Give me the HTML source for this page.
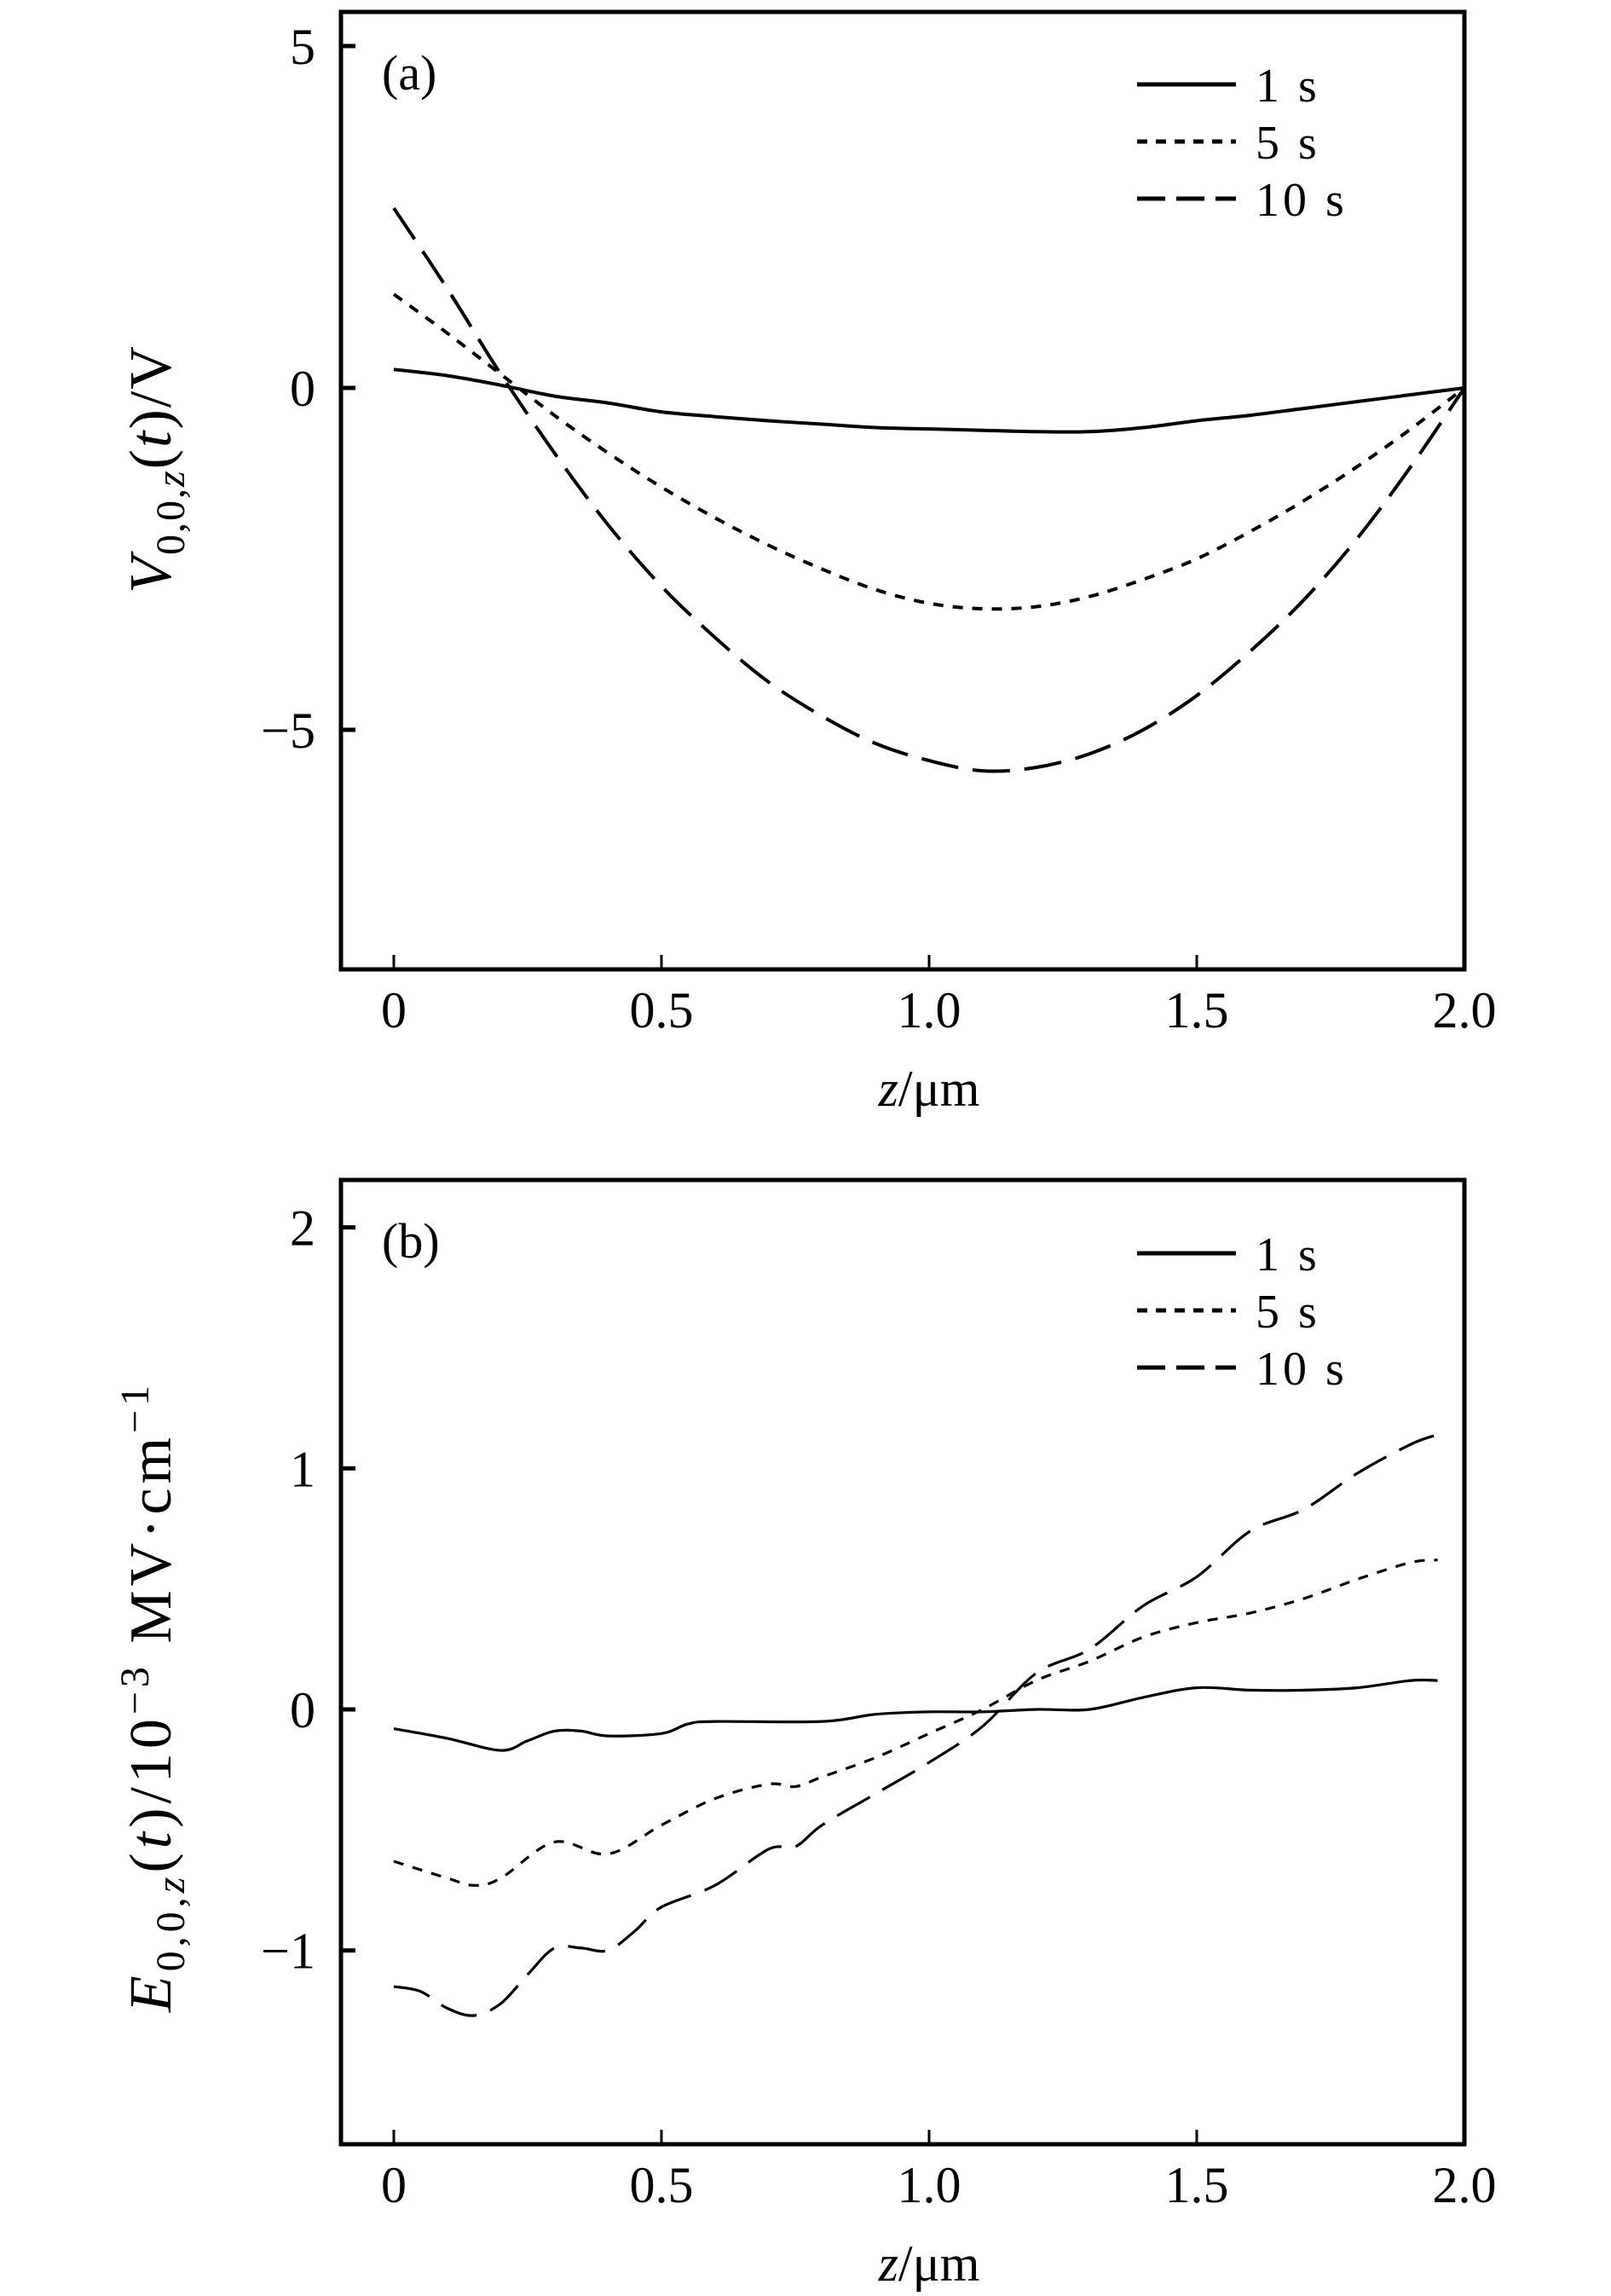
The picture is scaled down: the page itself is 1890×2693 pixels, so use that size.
<!DOCTYPE html>
<html><head><meta charset="utf-8"><style>
html,body{margin:0;padding:0;background:#fff;}
svg{display:block;font-family:"Liberation Serif","DejaVu Serif",serif;}
</style></head><body>
<svg id="fig" width="1890" height="2693" viewBox="0 0 1890 2693" xmlns="http://www.w3.org/2000/svg"></svg>
<script>
// ---- Panel (a) data: V_{0,0,z}(t) in V ----
const zA = [0,0.1,0.2,0.3,0.4,0.5,0.6,0.7,0.8,0.9,1.0,1.1,1.2,1.3,1.4,1.5,1.6,1.7,1.8,1.9,2.0];
const vA1 = [0.27,0.18,0.04,-0.12,-0.22,-0.35,-0.42,-0.48,-0.53,-0.58,-0.6,-0.62,-0.64,-0.64,-0.58,-0.48,-0.4,-0.3,-0.2,-0.1,0];
const vA5 = [1.37,0.8,0.2,-0.4,-0.95,-1.45,-1.9,-2.3,-2.65,-2.95,-3.15,-3.23,-3.2,-3.05,-2.8,-2.5,-2.1,-1.65,-1.15,-0.6,0];
const vA10 = [2.63,1.45,0.2,-0.95,-2.0,-2.9,-3.65,-4.3,-4.8,-5.2,-5.45,-5.6,-5.55,-5.35,-5.0,-4.5,-3.85,-3.1,-2.2,-1.15,0];
const yTicksA = [5,0,-5];
const yTickLabelsA = ["5","0","\u22125"];
// ---- Panel (b) data: E_{0,0,z}(t) in 1e-3 MV/cm ----
const zB1 = [0,0.1,0.2,0.25,0.3,0.35,0.4,0.5,0.55,0.6,0.8,0.9,1.0,1.1,1.2,1.3,1.4,1.5,1.6,1.7,1.8,1.9,1.95];
const eB1 = [-0.08,-0.12,-0.17,-0.13,-0.09,-0.09,-0.11,-0.1,-0.06,-0.05,-0.05,-0.02,-0.01,-0.01,0.0,0.0,0.05,0.09,0.08,0.08,0.09,0.12,0.12];
const zB5 = [0,0.1,0.15,0.2,0.3,0.4,0.5,0.6,0.7,0.75,0.8,0.9,1.0,1.1,1.2,1.3,1.4,1.5,1.6,1.7,1.8,1.9,1.95];
const eB5 = [-0.63,-0.7,-0.73,-0.7,-0.55,-0.6,-0.48,-0.37,-0.31,-0.32,-0.28,-0.2,-0.1,0.0,0.12,0.2,0.3,0.36,0.4,0.46,0.54,0.61,0.62];
const zB10 = [0,0.05,0.1,0.15,0.2,0.25,0.3,0.35,0.4,0.45,0.5,0.6,0.7,0.75,0.8,0.9,1.0,1.1,1.2,1.3,1.4,1.5,1.6,1.7,1.8,1.9,1.95];
const eB10 = [-1.15,-1.17,-1.24,-1.27,-1.22,-1.1,-0.99,-0.99,-1.0,-0.92,-0.82,-0.73,-0.58,-0.57,-0.48,-0.35,-0.22,-0.07,0.15,0.25,0.43,0.55,0.74,0.83,0.98,1.1,1.14];
const yTicksB = [2,1,0,-1];
const yTickLabelsB = ["2","1","0","\u22121"];
const xTicks = [0,0.5,1.0,1.5,2.0];
const xTickLabels = ["0","0.5","1.0","1.5","2.0"];
const legendLabels = ["1 s","5 s","10 s"];

const NS="http://www.w3.org/2000/svg";
const svg=document.getElementById('fig');
function el(tag,attrs,parent){const e=document.createElementNS(NS,tag);for(const k in attrs)e.setAttribute(k,attrs[k]);(parent||svg).appendChild(e);return e;}

function smoothPath(pts){
  let d=`M${pts[0][0].toFixed(1)},${pts[0][1].toFixed(1)}`;
  for(let i=0;i<pts.length-1;i++){
    const p0=pts[Math.max(0,i-1)],p1=pts[i],p2=pts[i+1],p3=pts[Math.min(pts.length-1,i+2)];
    const c1=[p1[0]+(p2[0]-p0[0])/6,p1[1]+(p2[1]-p0[1])/6];
    const c2=[p2[0]-(p3[0]-p1[0])/6,p2[1]-(p3[1]-p1[1])/6];
    d+=` C${c1[0].toFixed(1)},${c1[1].toFixed(1)} ${c2[0].toFixed(1)},${c2[1].toFixed(1)} ${p2[0].toFixed(1)},${p2[1].toFixed(1)}`;
  }
  return d;
}

const dashes=[null,"12,11","44,17"];
const L=400,R=1718,X0=462,XPX=628;
const xs=z=>X0+z*XPX;

function panel(cfg){
  const g=el('g',{});
  
  
  const ys=v=>cfg.y0-v*cfg.ypx;
  cfg.series.forEach((s,i)=>{
    const pts=s.z.map((z,j)=>[xs(z),ys(s.v[j])]);
    const p=el('path',{d:smoothPath(pts),fill:'none',stroke:'#000','stroke-width':cfg.lw,'stroke-linejoin':'round'},g);
    if(dashes[i])p.setAttribute('stroke-dasharray',dashes[i]);
    
    
  });
  const f=el('rect',{x:L,y:cfg.top,width:R-L,height:cfg.bottom-cfg.top,fill:'none',stroke:'#000','stroke-width':5},g);
  
  
  cfg.yt.forEach((v,i)=>{
    const y=ys(v);
    const t=el('line',{x1:L,x2:L+17,y1:y,y2:y,stroke:'#000','stroke-width':5},g);
    
    
    const tx=el('text',{x:370,y:y+21,'font-size':60,'text-anchor':'end'},g);
    tx.textContent=cfg.ytl[i];
    
    
  });
  xTicks.forEach((z,i)=>{
    const x=xs(z);
    if(i<xTicks.length-1){
      const t=el('line',{x1:x,x2:x,y1:cfg.bottom,y2:cfg.bottom-17,stroke:'#000','stroke-width':3},g);
      
      
    }
    const tx=el('text',{x:x,y:cfg.bottom+68,'font-size':60,'text-anchor':'middle'},g);
    tx.textContent=xTickLabels[i];
    
    
  });
  const xt=el('text',{x:xs(1.0),y:cfg.bottom+160,'font-size':60,'text-anchor':'middle'},g);
  xt.innerHTML='<tspan font-style="italic">z</tspan>/μm';
  
  
  const yt=el('text',{x:0,y:0,'font-size':70,'text-anchor':'middle','letter-spacing':cfg.ls,transform:`translate(${cfg.ytx},${cfg.yty}) rotate(-90)`},g);
  yt.innerHTML=cfg.ytitle;
  
  
  const pl=el('text',{x:448,y:cfg.top+91,'font-size':58},g);
  pl.textContent=cfg.label;
  
  
  legendLabels.forEach((lab,i)=>{
    const y=cfg.legY+i*67;
    const ln=el('line',{x1:1334,x2:1450,y1:y,y2:y,stroke:'#000','stroke-width':5},g);
    if(dashes[i])ln.setAttribute('stroke-dasharray',i==1?'12,10':'33,13');
    
    
    const tx=el('text',{x:1473,y:y+20,'font-size':56,'letter-spacing':'4'},g);
    tx.textContent=lab;
    
    
  });
}

panel({name:'panel-a',prefix:'a',top:14,bottom:1137,y0:455,ypx:80.2,lw:4,ls:'2',
  yt:yTicksA,ytl:yTickLabelsA,label:'(a)',legY:99,ytx:200,yty:550,
  ytitle:'<tspan font-style="italic">V</tspan><tspan font-size="48" dy="16">0,0,</tspan><tspan font-size="48" font-style="italic">z</tspan><tspan dy="-16">(</tspan><tspan font-style="italic">t</tspan>)/V',
  series:[{z:zA,v:vA1},{z:zA,v:vA5},{z:zA,v:vA10}]});
panel({name:'panel-b',prefix:'b',top:1384,bottom:2515,y0:2005,ypx:282.7,lw:3.2,ls:'5',
  yt:yTicksB,ytl:yTickLabelsB,label:'(b)',legY:1470,ytx:200,yty:1990,
  ytitle:'<tspan font-style="italic">E</tspan><tspan font-size="48" dy="16">0,0,</tspan><tspan font-size="48" font-style="italic">z</tspan><tspan dy="-16">(</tspan><tspan font-style="italic">t</tspan>)/10<tspan font-size="48" dy="-26">−3</tspan><tspan dy="26"> MV·cm</tspan><tspan font-size="48" dy="-26">−1</tspan>',
  series:[{z:zB1,v:eB1},{z:zB5,v:eB5},{z:zB10,v:eB10}]});
</script>
</body></html>
